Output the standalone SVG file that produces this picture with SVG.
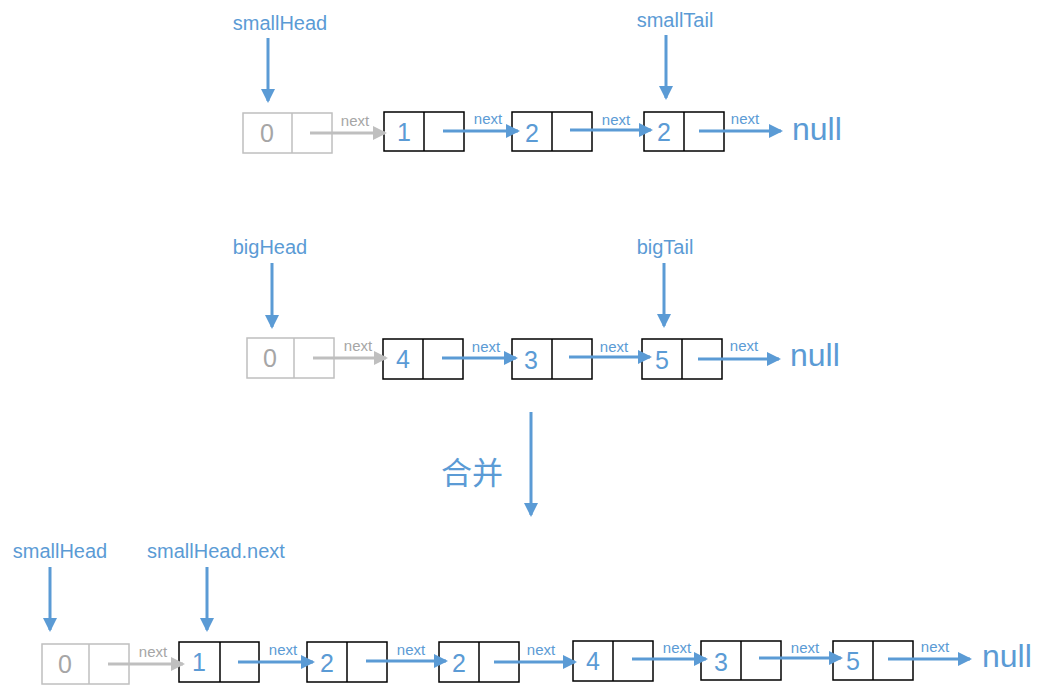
<svg xmlns="http://www.w3.org/2000/svg" width="1047" height="697" viewBox="0 0 1047 697">
<style>
.bx{fill:#fff;stroke:#000;stroke-width:1.5}
.gbx{fill:#fff;stroke:#bfbfbf;stroke-width:1.5}
.val{font-family:"Liberation Sans",Arial,sans-serif;font-size:25px;fill:#5b9bd5;text-anchor:middle}
.gval{font-family:"Liberation Sans",Arial,sans-serif;font-size:25px;fill:#a6a6a6;text-anchor:middle}
.lbl{font-family:"Liberation Sans",Arial,sans-serif;font-size:20px;fill:#5b9bd5;text-anchor:middle}
.nx{font-family:"Liberation Sans",Arial,sans-serif;font-size:15px;fill:#5b9bd5;text-anchor:middle}
.gnx{font-family:"Liberation Sans",Arial,sans-serif;font-size:15px;fill:#a6a6a6;text-anchor:middle}
.nul{font-family:"Liberation Sans",Arial,sans-serif;font-size:32px;fill:#5b9bd5}
.cn{font-family:"Noto Sans CJK SC","Noto Sans CJK JP",sans-serif;font-size:31px;fill:#5b9bd5;text-anchor:middle}
.a{stroke:#5b9bd5;stroke-width:3;fill:none;marker-end:url(#ab)}
.g{stroke:#bfbfbf;stroke-width:3;fill:none;marker-end:url(#ag)}
</style>
<defs>
<marker id="ab" viewBox="0 0 14 14" markerWidth="14" markerHeight="14" refX="12" refY="7" orient="auto" markerUnits="userSpaceOnUse"><path d="M0,0 L14,7 L0,14 z" fill="#5b9bd5"/></marker>
<marker id="ag" viewBox="0 0 14 14" markerWidth="14" markerHeight="14" refX="12" refY="7" orient="auto" markerUnits="userSpaceOnUse"><path d="M0,0 L14,7 L0,14 z" fill="#bfbfbf"/></marker>
</defs>
<rect width="1047" height="697" fill="#fff"/>

<!-- Row 1 -->
<g id="r1-n0"><rect class="gbx" x="243" y="113" width="89" height="40"/><line x1="292" y1="113" x2="292" y2="153" stroke="#bfbfbf" stroke-width="1.5"/><text class="gval" x="267" y="142">0</text></g>
<g id="r1-n1"><rect class="bx" x="384" y="112" width="80" height="39"/><line x1="424" y1="112" x2="424" y2="151" stroke="#000" stroke-width="1.5"/><text class="val" x="404" y="141">1</text></g>
<g id="r1-n2"><rect class="bx" x="512" y="112" width="80" height="39"/><line x1="552" y1="112" x2="552" y2="151" stroke="#000" stroke-width="1.5"/><text class="val" x="532" y="142">2</text></g>
<g id="r1-n3"><rect class="bx" x="644" y="112" width="80" height="39"/><line x1="684" y1="112" x2="684" y2="151" stroke="#000" stroke-width="1.5"/><text class="val" x="664" y="141">2</text></g>
<g id="r1-null"><text class="nul" x="792" y="140">null</text></g>
<g id="r1-smallHead"><text class="lbl" x="280" y="30">smallHead</text></g>
<g id="r1-smallTail"><text class="lbl" x="675" y="27">smallTail</text></g>

<!-- Row 2 -->
<g id="r2-n0"><rect class="gbx" x="247" y="338" width="87" height="40"/><line x1="294" y1="338" x2="294" y2="378" stroke="#bfbfbf" stroke-width="1.5"/><text class="gval" x="270" y="367">0</text></g>
<g id="r2-n1"><rect class="bx" x="383" y="339" width="80" height="40"/><line x1="423" y1="339" x2="423" y2="379" stroke="#000" stroke-width="1.5"/><text class="val" x="403" y="368">4</text></g>
<g id="r2-n2"><rect class="bx" x="512" y="339" width="80" height="40"/><line x1="552" y1="339" x2="552" y2="379" stroke="#000" stroke-width="1.5"/><text class="val" x="531" y="369">3</text></g>
<g id="r2-n3"><rect class="bx" x="642" y="339" width="80" height="40"/><line x1="682" y1="339" x2="682" y2="379" stroke="#000" stroke-width="1.5"/><text class="val" x="662" y="369">5</text></g>
<g id="r2-null"><text class="nul" x="790" y="366">null</text></g>
<g id="r2-bigHead"><text class="lbl" x="270" y="254">bigHead</text></g>
<g id="r2-bigTail"><text class="lbl" x="665" y="254">bigTail</text></g>

<!-- merge -->
<g id="merge"><text class="cn" x="472" y="484">合并</text></g>

<!-- Row 3 -->
<g id="r3-n0"><rect class="gbx" x="42" y="644" width="87" height="40"/><line x1="89" y1="644" x2="89" y2="684" stroke="#bfbfbf" stroke-width="1.5"/><text class="gval" x="65" y="673">0</text></g>
<g id="r3-n1"><rect class="bx" x="179" y="642" width="80" height="40"/><line x1="220" y1="642" x2="220" y2="682" stroke="#000" stroke-width="1.5"/><text class="val" x="199" y="671">1</text></g>
<g id="r3-n2"><rect class="bx" x="307" y="642" width="80" height="40"/><line x1="347" y1="642" x2="347" y2="682" stroke="#000" stroke-width="1.5"/><text class="val" x="327" y="672">2</text></g>
<g id="r3-n3"><rect class="bx" x="439" y="642" width="80" height="40"/><line x1="479" y1="642" x2="479" y2="682" stroke="#000" stroke-width="1.5"/><text class="val" x="459" y="672">2</text></g>
<g id="r3-n4"><rect class="bx" x="573" y="641" width="80" height="40"/><line x1="613" y1="641" x2="613" y2="681" stroke="#000" stroke-width="1.5"/><text class="val" x="593" y="670">4</text></g>
<g id="r3-n5"><rect class="bx" x="701" y="641" width="80" height="39"/><line x1="741" y1="641" x2="741" y2="680" stroke="#000" stroke-width="1.5"/><text class="val" x="721" y="671">3</text></g>
<g id="r3-n6"><rect class="bx" x="833" y="641" width="80" height="39"/><line x1="873" y1="641" x2="873" y2="680" stroke="#000" stroke-width="1.5"/><text class="val" x="853" y="670">5</text></g>
<g id="r3-null"><text class="nul" x="982" y="667">null</text></g>
<g id="r3-smallHead"><text class="lbl" x="60" y="558">smallHead</text></g>
<g id="r3-smallHeadNext"><text class="lbl" x="216" y="558">smallHead.next</text></g>

<g id="connectors">
<!-- row 1 -->
<line class="a" x1="268" y1="38" x2="268" y2="101"/>
<line class="a" x1="666" y1="35" x2="666" y2="98"/>
<line class="g" x1="310" y1="133" x2="385" y2="133"/><text class="gnx" x="355" y="126">next</text>
<line class="a" x1="443" y1="131" x2="518" y2="131"/><text class="nx" x="488" y="124">next</text>
<line class="a" x1="570" y1="130" x2="651" y2="130"/><text class="nx" x="616" y="125">next</text>
<line class="a" x1="699" y1="131" x2="781" y2="131"/><text class="nx" x="745" y="124">next</text>
<!-- row 2 -->
<line class="a" x1="272" y1="263" x2="272" y2="327"/>
<line class="a" x1="664" y1="263" x2="664" y2="326"/>
<line class="g" x1="313" y1="358" x2="386" y2="358"/><text class="gnx" x="358" y="351">next</text>
<line class="a" x1="442" y1="358" x2="516" y2="358"/><text class="nx" x="486" y="352">next</text>
<line class="a" x1="569" y1="357" x2="650" y2="357"/><text class="nx" x="614" y="352">next</text>
<line class="a" x1="698" y1="359" x2="779" y2="359"/><text class="nx" x="744" y="351">next</text>
<!-- merge arrow -->
<line class="a" x1="531" y1="412" x2="531" y2="515"/>
<!-- row 3 -->
<line class="a" x1="50" y1="567" x2="50" y2="630"/>
<line class="a" x1="207" y1="567" x2="207" y2="630"/>
<line class="g" x1="108" y1="664" x2="183" y2="664"/><text class="gnx" x="153" y="657">next</text>
<line class="a" x1="238" y1="662" x2="313" y2="662"/><text class="nx" x="283" y="655">next</text>
<line class="a" x1="366" y1="661" x2="446" y2="661"/><text class="nx" x="411" y="655">next</text>
<line class="a" x1="494" y1="662" x2="575" y2="662"/><text class="nx" x="541" y="655">next</text>
<line class="a" x1="632" y1="659" x2="706" y2="659"/><text class="nx" x="677" y="653">next</text>
<line class="a" x1="759" y1="658" x2="841" y2="658"/><text class="nx" x="805" y="653">next</text>
<line class="a" x1="888" y1="659" x2="970" y2="659"/><text class="nx" x="935" y="652">next</text>
</g>
</svg>
